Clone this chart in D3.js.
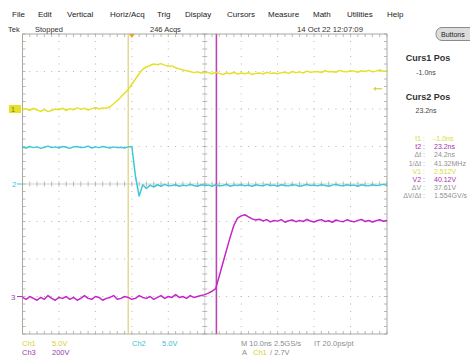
<!DOCTYPE html>
<html>
<head>
<meta charset="utf-8">
<script src="https://cdn.jsdelivr.net/npm/d3@7"></script>
<style>
  body { margin: 0; background: #fff; }
  svg { display: block; font-family: "Liberation Sans", Arial, sans-serif; }
</style>
</head>
<body>
<svg id="scope" width="470" height="358"></svg>
<script>
// sample times, ns (1 ns steps across the 10 div record)
const timeNs = d3.range(-30, 71);

// Ch1 (yellow), volts
const ch1Volts = [
  -0.1, 0.05, -0.2, 0.1, -0.15, -0.3, -0.05, -0.35, -0.2, 0.0,
  -0.1, 0.1, -0.2, 0.05, -0.1, 0.15, -0.05, 0.1, -0.15, 0.05,
  0.2, 0.0, 0.15, 0.1,
  0.3, 0.7, 1.1, 1.6, 2.1, 2.6, 3.3, 4.0, 4.7, 5.3,
  5.6, 5.8, 6.0, 5.9, 6.05, 5.85, 5.7, 5.75, 5.5, 5.35,
  5.2, 5.1, 5.0, 4.85, 4.95, 4.8, 4.9,
  4.85, 4.7, 4.9, 4.75, 4.6, 4.8, 4.7, 4.9, 4.65, 4.8,
  4.7, 4.85, 4.6, 4.75, 4.8, 4.65, 4.9, 4.75, 4.8, 4.7,
  4.85, 4.9, 4.75, 5.0, 4.85, 4.95, 4.8, 5.05, 4.9, 4.95,
  5.0, 4.85, 5.1, 4.95, 5.0, 4.9, 5.15, 5.0, 4.95, 5.1,
  5.05, 4.9, 5.1, 5.0, 5.15, 4.95, 5.05, 5.2, 5.0, 5.1
];

// Ch2 (cyan), volts
const ch2Volts = [
  4.9, 4.8, 5.0, 4.85, 4.95, 4.75, 4.9, 5.05, 4.85, 4.95,
  4.8, 5.0, 4.9, 4.75, 4.95, 5.0, 4.85, 4.9, 5.05, 4.8,
  4.95, 4.85, 5.0, 4.9, 4.8, 4.95, 4.85, 4.9, 4.8, 4.95,
  5.0, 1.0, -1.6, -0.1, -0.6, -0.15, -0.4, -0.1, -0.3, -0.05, -0.25,
  -0.2, -0.1, -0.3, -0.15, -0.25, -0.05, -0.2, -0.3, -0.1, -0.2,
  -0.15, -0.3, -0.1, -0.25, -0.2, -0.05, -0.3, -0.15, -0.2, -0.1,
  -0.25, -0.15, -0.3, -0.1, -0.2, -0.25, -0.05, -0.2, -0.15, -0.3,
  -0.1, -0.2, -0.25, -0.1, -0.15, -0.3, -0.2, -0.05, -0.2, -0.15,
  -0.25, -0.1, -0.2, -0.3, -0.15, -0.05, -0.2, -0.25, -0.1, -0.2,
  -0.15, -0.3, -0.1, -0.2, -0.25, -0.1, -0.2, -0.15, -0.05, -0.2
];

// Ch3 (magenta), volts
const ch3Volts = [
  -5, -15, 0, -10, -20, -5, -15, 5, -10, -20,
  -5, -10, 0, -15, -5, -20, -10, 5, -10, -15,
  0, -5, -20, -10, -5, 5, -15, -10, 0, -5,
  -15, -10, 5, -5, -10, 0, -15, -5, 5, -10,
  0, -5, 10, -5, 0, -10, 5, -5, 0, 5,
  10, 18, 28, 42, 110, 180, 250, 318, 380, 418,
  430, 436, 425, 414, 408, 412, 403, 410, 398, 405,
  402, 410, 396, 404, 408, 399, 406, 400, 411, 403,
  397, 405, 410, 400, 404, 396, 408, 402, 399, 409,
  403, 398, 406, 411, 400, 405, 397, 404, 409, 401,
  406
];

// channel settings: volts/div and ground position (div from centre)
const channels = [
  { name: "Ch1", values: ch1Volts, voltsPerDiv: 5, offsetDiv: 2, color: "#e6e028" },
  { name: "Ch2", values: ch2Volts, voltsPerDiv: 5, offsetDiv: 0, color: "#3cc8d8" },
  { name: "Ch3", values: ch3Volts, voltsPerDiv: 200, offsetDiv: -3, color: "#c424c8" }
];

const cursorTimes = [-1.0, 23.2];
const menuItems = ["File", "Edit", "Vertical", "Horiz/Acq", "Trig", "Display", "Cursors", "Measure", "Math", "Utilities", "Help"];
const menuX = [12, 38, 67, 110, 157, 185, 227, 268, 313, 347, 387];

const readLabels = ["t1 :", "t2 :", "\u0394t :", "1/\u0394t :", "V1 :", "V2 :", "\u0394V :", "\u0394V/\u0394t :"];
const readValues = ["-1.0ns", "23.2ns", "24.2ns", "41.32MHz", "2.512V", "40.12V", "37.61V", "1.554GV/s"];
const readColors = ["#dcd640", "#a830b0", "#909090", "#909090", "#dcd640", "#a830b0", "#909090", "#909090"];

const svg = d3.select("#scope");

const plotLeft = 22.5, plotRight = 387, plotTop = 34, plotBottom = 334;
const x = d3.scaleLinear().domain([-30, 70]).range([plotLeft, plotRight]);
const yDiv = d3.scaleLinear().domain([-4, 4]).range([plotBottom, plotTop]);
const xDiv = d3.scaleLinear().domain([0, 10]).range([plotLeft, plotRight]);

function label(px, py, s, color, size, weight, anchor) {
  return svg.append("text")
    .attr("x", px).attr("y", py)
    .attr("fill", color)
    .attr("font-size", size)
    .attr("font-weight", weight || "normal")
    .attr("text-anchor", anchor || "start")
    .text(s);
}

// graticule
const grid = svg.append("g");
const minorX = d3.range(0, 50.01, 1).map(i => xDiv(i / 5));
const minorY = d3.range(0, 40.01, 1).map(i => yDiv(-4 + i / 5));

[1, 2, 3, 4, 6, 7, 8, 9].forEach(d => {
  grid.selectAll(null).data(minorY).enter().append("rect")
    .attr("x", xDiv(d) - 0.5).attr("y", v => v - 0.5)
    .attr("width", 1).attr("height", 1).attr("fill", "#b4b4b4");
});
[-3, -2, -1, 1, 2, 3].forEach(d => {
  grid.selectAll(null).data(minorX).enter().append("rect")
    .attr("x", v => v - 0.5).attr("y", yDiv(d) - 0.5)
    .attr("width", 1).attr("height", 1).attr("fill", "#b4b4b4");
});

// centre cross with minor ticks
grid.append("line").attr("x1", xDiv(5)).attr("x2", xDiv(5)).attr("y1", plotTop).attr("y2", plotBottom)
  .attr("stroke", "#c8c8c8").attr("stroke-width", 0.8);
grid.append("line").attr("x1", plotLeft).attr("x2", plotRight).attr("y1", yDiv(0)).attr("y2", yDiv(0))
  .attr("stroke", "#c8c8c8").attr("stroke-width", 0.8);
grid.selectAll(null).data(minorY).enter().append("line")
  .attr("x1", xDiv(5) - 2.5).attr("x2", xDiv(5) + 2.5).attr("y1", v => v).attr("y2", v => v)
  .attr("stroke", "#a8a8a8").attr("stroke-width", 0.8);
grid.selectAll(null).data(minorX).enter().append("line")
  .attr("y1", yDiv(0) - 2.5).attr("y2", yDiv(0) + 2.5).attr("x1", v => v).attr("x2", v => v)
  .attr("stroke", "#a8a8a8").attr("stroke-width", 0.8);

// frame with inward ticks
grid.append("rect").attr("x", plotLeft).attr("y", plotTop)
  .attr("width", plotRight - plotLeft).attr("height", plotBottom - plotTop)
  .attr("fill", "none").attr("stroke", "#a8a8a0").attr("stroke-width", 1);
grid.selectAll(null).data(minorX).enter().append("line")
  .attr("x1", v => v).attr("x2", v => v).attr("y1", plotTop).attr("y2", plotTop + 3)
  .attr("stroke", "#a8a8a0").attr("stroke-width", 0.8);
grid.selectAll(null).data(minorX).enter().append("line")
  .attr("x1", v => v).attr("x2", v => v).attr("y1", plotBottom).attr("y2", plotBottom - 3)
  .attr("stroke", "#a8a8a0").attr("stroke-width", 0.8);
grid.selectAll(null).data(minorY).enter().append("line")
  .attr("x1", plotLeft).attr("x2", plotLeft + 3).attr("y1", v => v).attr("y2", v => v)
  .attr("stroke", "#a8a8a0").attr("stroke-width", 0.8);
grid.selectAll(null).data(minorY).enter().append("line")
  .attr("x1", plotRight).attr("x2", plotRight - 3).attr("y1", v => v).attr("y2", v => v)
  .attr("stroke", "#a8a8a0").attr("stroke-width", 0.8);

// cursors
svg.append("line").attr("x1", x(cursorTimes[0])).attr("x2", x(cursorTimes[0]))
  .attr("y1", plotTop).attr("y2", plotBottom).attr("stroke", "#e2cf78").attr("stroke-width", 1.2);
svg.append("line").attr("x1", x(cursorTimes[1])).attr("x2", x(cursorTimes[1]))
  .attr("y1", plotTop).attr("y2", plotBottom).attr("stroke", "#b848b8").attr("stroke-width", 1.6);

// waveforms
channels.forEach(ch => {
  const line = d3.line()
    .x((v, i) => x(timeNs[i]))
    .y(v => yDiv(ch.offsetDiv + v / ch.voltsPerDiv));
  svg.append("path").datum(ch.values)
    .attr("d", line)
    .attr("fill", "none")
    .attr("stroke", ch.color)
    .attr("stroke-width", 1.5)
    .attr("stroke-linejoin", "round");
});

// trigger position marker (top) and trigger level marker (right)
svg.append("path")
  .attr("d", `M${x(0) - 3},${plotTop} L${x(0) + 3},${plotTop} L${x(0)},${plotTop + 4} Z`)
  .attr("fill", "#f0a030");
const trigY = yDiv(2 + 2.7 / 5);
svg.append("line").attr("x1", 374).attr("x2", 382).attr("y1", trigY).attr("y2", trigY)
  .attr("stroke", "#d8d040").attr("stroke-width", 1.2);
svg.append("path").attr("d", `M373,${trigY} L376,${trigY - 2} L376,${trigY + 2} Z`).attr("fill", "#d8d040");

// channel ground markers
const g1 = yDiv(2);
svg.append("rect").attr("x", 9).attr("y", g1 - 4).attr("width", 12).attr("height", 8).attr("fill", "#e6e028");
label(11, g1 + 3, "1", "#9a9a10", 7, "bold");
svg.append("line").attr("x1", 17).attr("x2", plotLeft).attr("y1", yDiv(0)).attr("y2", yDiv(0))
  .attr("stroke", "#3cc8d8").attr("stroke-width", 1);
label(12, yDiv(0) + 3, "2", "#3cc8d8", 8);
svg.append("line").attr("x1", 17).attr("x2", plotLeft).attr("y1", yDiv(-3)).attr("y2", yDiv(-3))
  .attr("stroke", "#c424c8").attr("stroke-width", 1);
label(11, yDiv(-3) + 3, "3", "#a040a8", 8);

// top menu and status line
menuItems.forEach((m, i) => label(menuX[i], 17, m, "#222", 8));
label(8, 32, "Tek", "#333", 7.5);
label(35, 32, "Stopped", "#333", 7.5);
label(150, 32, "246 Acqs", "#333", 7.5);
label(297, 32, "14 Oct 22 12:07:09", "#333", 7.5).attr("textLength", 66).attr("lengthAdjust", "spacingAndGlyphs");

svg.append("rect").attr("x", 436).attr("y", 27.5).attr("width", 40).attr("height", 13).attr("rx", 6)
  .attr("fill", "#dcdcdc").attr("stroke", "#8a8a8a").attr("stroke-width", 1);
label(441, 37, "Buttons", "#222", 7);

// cursor panel
label(428, 61, "Curs1 Pos", "#333", 9, "bold", "middle");
label(426, 75, "-1.0ns", "#444", 7, "normal", "middle");
label(428, 100, "Curs2 Pos", "#333", 9, "bold", "middle");
label(426, 113, "23.2ns", "#444", 7, "normal", "middle");

readLabels.forEach((s, i) => {
  label(425, 141 + i * 8.2, s, readColors[i], 7, "normal", "end");
  label(434, 141 + i * 8.2, readValues[i], readColors[i], 7);
});

// bottom readouts
label(22, 346, "Ch1", "#d8d030", 7.5);
label(52, 346, "5.0V", "#d8d030", 7.5);
label(132, 346, "Ch2", "#3cc0d0", 7.5);
label(162, 346, "5.0V", "#3cc0d0", 7.5);
label(241, 346, "M 10.0ns 2.5GS/s", "#8c8c8c", 7.5);
label(314, 346, "IT 20.0ps/pt", "#8c8c8c", 7.5);
label(22, 355, "Ch3", "#9a3aa8", 7.5);
label(52, 355, "200V", "#9a3aa8", 7.5);
label(242, 355, "A", "#8c8c8c", 7.5);
label(253, 355, "Ch1", "#d8d030", 7.5);
label(270, 355, "/ 2.7V", "#8c8c8c", 7.5);
</script>
</body>
</html>
